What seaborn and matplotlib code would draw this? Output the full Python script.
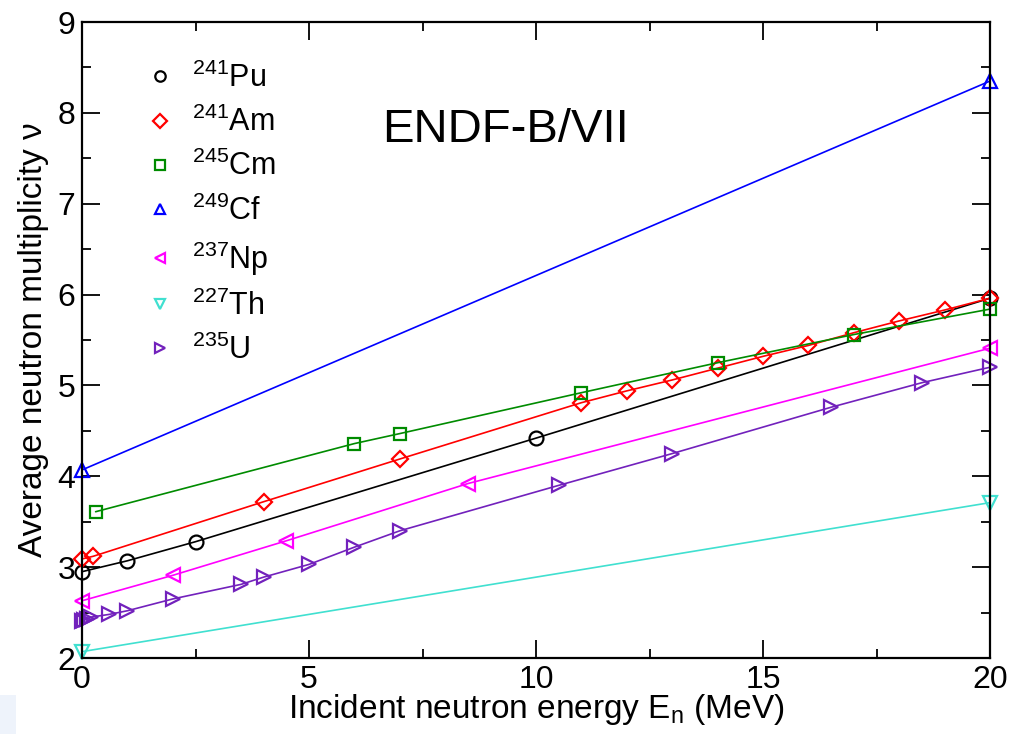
import numpy as np
import pandas as pd
import matplotlib
matplotlib.use("Agg")
import matplotlib.pyplot as plt
from matplotlib.lines import Line2D
from matplotlib.patches import Rectangle
import seaborn as sns

# ---- data ----
pu_x = [0, 1, 2.5, 10, 20]
pu_y = [2.95, 3.07, 3.28, 4.42, 5.96]

am_x = [0, 0.25, 4, 7, 11, 12, 13, 14, 15, 16, 17, 18, 19, 20]
am_y = [3.09, 3.12, 3.72, 4.19, 4.81, 4.94, 5.06, 5.19, 5.32, 5.44, 5.58, 5.71, 5.83, 5.96]

cm_x = [0.3, 6, 7, 11, 14, 17, 20]
cm_y = [3.61, 4.36, 4.47, 4.92, 5.25, 5.56, 5.84]

cf_x = [0, 20]
cf_y = [4.07, 8.35]

np_x = [0, 2, 4.5, 8.5, 20]
np_y = [2.63, 2.91, 3.29, 3.92, 5.41]

th_x = [0, 20]
th_y = [2.07, 3.71]

u_x = [0, 0.05, 0.1, 0.2, 0.6, 1, 2, 3.5, 4, 5, 6, 7, 10.5, 13, 16.5, 18.5, 20]
u_y = [2.41, 2.42, 2.43, 2.45, 2.48, 2.52, 2.65, 2.81, 2.89, 3.03, 3.22, 3.40, 3.90, 4.25, 4.76, 5.03, 5.20]

labels = [r"$^{241}$Pu", r"$^{241}$Am", r"$^{245}$Cm", r"$^{249}$Cf",
          r"$^{237}$Np", r"$^{227}$Th", r"$^{235}$U"]
colors = ["#000000", "#ff0000", "#008b00", "#0000ff", "#ff00ff", "#40e0d0", "#7221bc"]
markers = ["o", "D", "s", "^", "<", "v", ">"]
msizes = [10, 8, 9, 10, 10, 10, 10]
series = [(pu_x, pu_y), (am_x, am_y), (cm_x, cm_y), (cf_x, cf_y),
          (np_x, np_y), (th_x, th_y), (u_x, u_y)]

x_ticks = [0, 5, 10, 15, 20]
y_ticks = [2, 3, 4, 5, 6, 7, 8, 9]

# ---- style ----
sns.set_theme(style="ticks")
plt.rcParams["font.family"] = ["Liberation Sans", "DejaVu Sans"]
plt.rcParams["mathtext.fontset"] = "custom"
plt.rcParams["mathtext.rm"] = "Liberation Sans"
plt.rcParams["mathtext.it"] = "Liberation Sans:italic"
plt.rcParams["mathtext.default"] = "regular"
plt.rcParams["text.color"] = "black"
plt.rcParams["axes.labelcolor"] = "black"
plt.rcParams["xtick.color"] = "black"
plt.rcParams["ytick.color"] = "black"
plt.rcParams["xtick.labelcolor"] = "black"
plt.rcParams["ytick.labelcolor"] = "black"

fig = plt.figure(figsize=(10.10, 7.34), dpi=100)
ax = fig.add_axes([82 / 1010, 1 - 658 / 734, (990 - 82) / 1010, (658 - 22) / 734])

frames = []
for (xs, ys), lab in zip(series, labels):
    frames.append(pd.DataFrame({"E": xs, "nu": ys, "iso": lab}))
df = pd.concat(frames, ignore_index=True)

for lab, col, mk, ms in zip(labels, colors, markers, msizes):
    sub = df[df["iso"] == lab]
    sns.lineplot(data=sub, x="E", y="nu", ax=ax, color=col, lw=1.2,
                 marker=mk, markersize=ms, markerfacecolor="none",
                 markeredgecolor=col, markeredgewidth=1.6,
                 sort=True, estimator=None, legend=False, clip_on=False)

ax.set_xlim(0, 20)
ax.set_ylim(2, 9)
ax.set_xticks(x_ticks)
ax.set_yticks(y_ticks)
ax.set_xticks(np.arange(0, 20.1, 2.5), minor=True)
ax.set_yticks(np.arange(2, 9.01, 0.5), minor=True)
ax.tick_params(which="both", direction="in", top=True, right=True, width=1.3,
               color="black")
ax.tick_params(which="major", length=13, labelsize=23, pad=5)
ax.tick_params(which="minor", length=6.5)
for sp in ax.spines.values():
    sp.set_linewidth(1.6)
    sp.set_color("black")

ax.set_xlabel(r"Incident neutron energy E$_\mathregular{n}$ (MeV)", fontsize=24,
              labelpad=-2, color="black")
ax.set_ylabel("Average neutron multiplicity ν", fontsize=24, labelpad=6, color="black")

ax.text(0.331, 0.83, "ENDF-B/VII", transform=ax.transAxes, fontsize=34,
        ha="left", va="center", color="black")

handles = [Line2D([], [], linestyle="none", marker=mk, markersize=7.5,
                  markerfacecolor="none", markeredgecolor=col, markeredgewidth=1.6)
           for col, mk in zip(colors, markers)]
leg = ax.legend(handles, labels, loc="upper left", bbox_to_anchor=(0.056, 0.955),
                frameon=False, fontsize=22, labelspacing=0.42, handlelength=1.0,
                handletextpad=0.55, borderaxespad=0)
for t in leg.get_texts():
    t.set_color("black")

fig.patches.append(Rectangle((0, 0), 16 / 1010, 39 / 734, transform=fig.transFigure,
                             facecolor="#eef3fb", edgecolor="none", zorder=-1))

fig.savefig("out.png", dpi=100)
